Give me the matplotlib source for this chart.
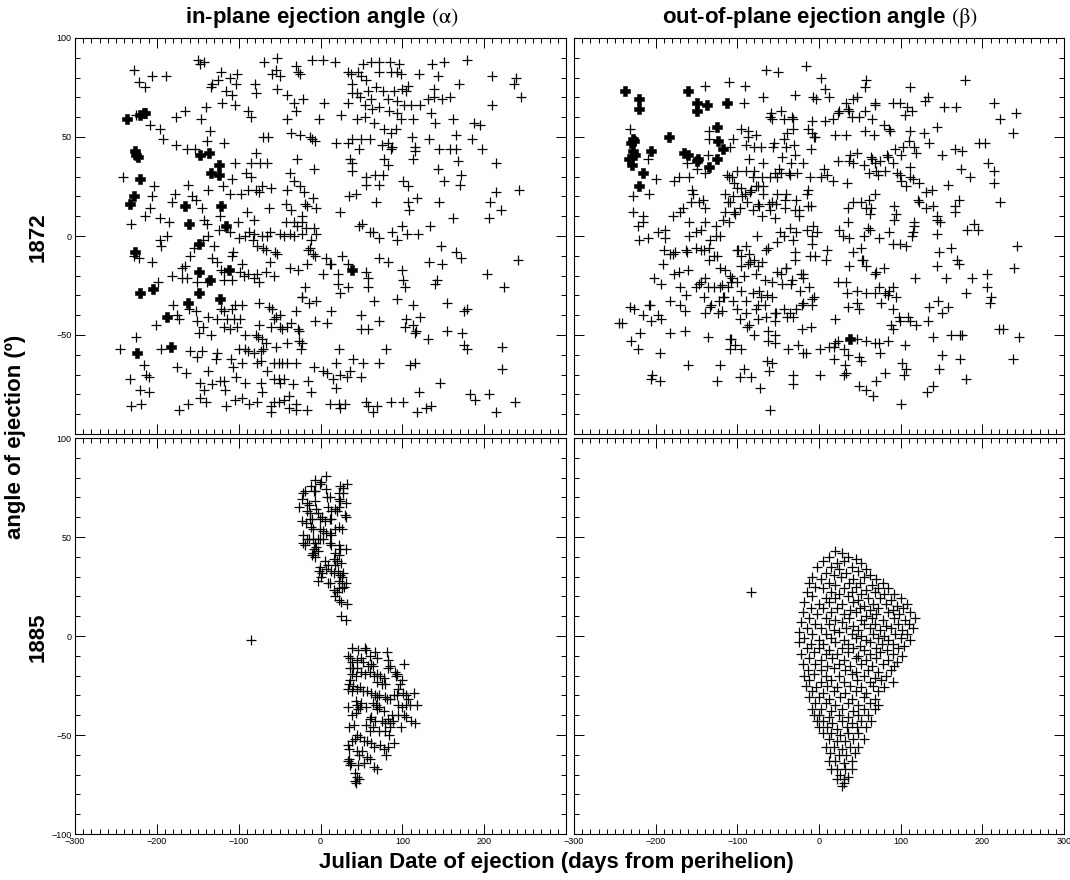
import numpy as np
import matplotlib
matplotlib.use('Agg')
import matplotlib.pyplot as plt
from matplotlib.ticker import MultipleLocator

plt.rcParams['font.family'] = ['Liberation Sans', 'DejaVu Sans']
plt.rcParams['mathtext.fontset'] = 'stix'

# ---------------- data (days from perihelion, angle in degrees) ----------------
ALPHA_1872 = [
    (-228,84),(-222,78),(-214,75),(-206,81),(-189,81),(-226,61),(-208,56),(-196,54),(-192,49),(-176,60),
    (-165,63),(-177,46),(-163,44),(-153,44),(-139,48),(-135,53),(-146,59),(-140,65),(-150,89),(-147,87),
    (-142,88),(-134,75),(-133,77),(-125,79),(-122,83),(-120,67),(-116,73),(-110,80),(-108,71),(-104,66),
    (-103,77),(-102,82),(-118,47),(-119,25),(-110,21),(-105,37),(-108,29),(-97,21),(-123,10),(-124,3),
    (-101,7),(-90,12),(-81,8),(-92,0),(-85,37),(-74,37),(-91,32),(-85,30),(-88,23),(-79,23),(-75,22),
    (-71,25),(-61,24),(-65,37),(-80,77),(-79,72),(-88,63),(-85,60),(-69,88),(-70,50),(-64,50),(-79,42),
    (-63,14),(-53,90),(-59,82),(-49,81),(-54,84),(-53,74),(-41,71),(-30,86),(-28,83),(-32,67),(-30,63),
    (-41,59),(-36,52),(-25,51),(-29,39),(-37,32),(-32,28),(-41,23),(-25,25),(-42,16),(-36,13),(-42,7),
    (-32,7),(-29,5),(-241,30),(-231,6),(-215,10),(-208,14),(-206,20),(-204,25),(-196,9),(-185,7),(-182,17),
    (-178,21),(-162,26),(-157,20),(-152,18),(-145,14),(-142,8),(-139,6),(-138,23),
    (-196,-2),(-195,-5),(-187,0),(-228,-10),(-222,-11),(-206,-13),(-155,-6),(-159,-10),(-143,-2),(-138,0),
    (-130,-5),(-133,-11),(-126,-13),(-166,-15),(-169,-16),(-181,-20),(-169,-21),(-163,-21),(-151,-23),
    (-198,-23),(-139,-23),(-121,-17),(-118,-18),(-107,-8),(-108,-10),(-100,-1),(-111,2),(-96,-14),
    (-118,-22),(-108,-22),(-98,-18),(-94,-20),(-88,-19),(-81,-21),(-75,-23),(-78,-19),(-67,-18),(-57,-20),
    (-62,-13),(-53,-9),(-56,-8),(-83,-2),(-77,-5),(-87,2),(-81,1),(-71,0),(-65,0),(-62,2),(-49,1),(-45,0),
    (-37,1),(-32,0),(-70,-6),(-67,-7),(-37,-16),(-28,-17),(-180,-35),(-175,-40),(-173,-42),(-161,-37),
    (-152,-38),(-151,-43),(-201,-45),(-143,-46),(-137,-41),(-127,-42),(-122,-37),(-118,-38),(-114,-42),
    (-106,-42),(-98,-42),(-108,-37),(-104,-35),(-96,-35),(-75,-34),(-63,-36),(-59,-37),(-54,-41),(-57,-42),
    (-49,-40),(-30,-38),(-118,-46),(-110,-47),(-102,-46),(-134,-50),(-149,-49),(-92,-50),(-79,-50),
    (-76,-51),(-75,-45),(-71,-52),(-67,-54),(-61,-46),(-49,-46),(-47,-47),(-41,-46),(-36,-44),(-28,-47),
    (-26,-48),(-41,-54),(-26,-53),(-24,-57),(-54,-56),(-70,-57),(-73,-58),(-81,-59),(-100,-57),(-92,-57),
    (-89,-58),(-109,-62),(-107,-66),(-96,-64),(-77,-64),(-73,-63),(-65,-68),(-57,-64),(-51,-64),(-47,-64),
    (-41,-64),(-30,-64),(-57,-72),(-51,-72),(-45,-72),(-49,-74),(-33,-75),(-226,-51),(-245,-57),(-195,-57),
    (-160,-58),(-151,-61),(-145,-58),(-128,-62),(-126,-59),(-138,-68),(-175,-66),(-164,-69),(-216,-65),
    (-213,-70),(-210,-71),(-233,-72),(-221,-78),(-209,-79),(-231,-86),(-219,-85),(-173,-88),(-162,-85),
    (-147,-74),(-142,-78),(-140,-84),(-147,-82),(-132,-75),(-123,-73),(-118,-73),(-117,-78),(-116,-86),
    (-105,-83),(-96,-82),(-103,-71),(-92,-74),(-87,-85),(-77,-84),(-73,-74),(-72,-79),(-61,-86),(-60,-89),
    (-57,-84),(-51,-84),(-45,-83),(-38,-81),(-38,-87),(-30,-88),(-30,-85),
    (-10,89),(3,89),(18,88),(52,87),(62,88),(72,88),(85,88),(96,87),(72,83),(86,83),(93,83),(98,82),(34,83),
    (37,82),(46,83),(49,81),(56,79),(-25,82),(38,77),(136,87),(151,88),(179,89),(120,82),(143,81),(209,81),
    (239,80),(237,77),(169,77),(245,70),(-21,69),(4,67),(38,72),(44,72),(34,67),(48,70),(54,66),(58,73),
    (62,69),(68,75),(71,65),(76,73),(83,69),(90,73),(93,68),(99,74),(104,73),(107,76),(102,66),(111,66),
    (121,66),(131,69),(139,70),(148,69),(158,70),(139,74),(63,64),(84,63),(93,62),(54,60),(44,59),(25,61),
    (-2,59),(65,57),(98,59),(113,59),(135,62),(140,57),(162,59),(187,57),(195,56),(209,66),(77,54),(86,52),
    (92,54),(166,51),(-13,50),(-10,49),(-7,48),(19,47),(34,47),(38,49),(50,49),(60,49),(47,44),(75,46),
    (82,47),(86,44),(87,45),(112,50),(115,45),(116,43),(113,39),(132,49),(145,44),(158,44),(166,44),
    (185,49),(197,44),(168,38),(214,37),(36,39),(38,37),(39,33),(77,39),(82,36),(-8,34),(55,30),(66,31),
    (76,31),(56,26),(71,26),(101,28),(107,25),(144,34),(151,28),(172,31),(171,26),(35,20),(43,21),(68,17),
    (107,17),(108,13),(118,19),(145,17),(214,22),(207,17),(220,13),(242,23),(24,12),(-20,22),(-9,19),
    (-19,16),(-16,15),(-6,14),(-23,10),(-22,7),(-18,4),(-8,4),(162,9),(206,9),(47,5),(51,6),(99,5),(134,5),
    (-23,1),(-5,1),(-11,-2),(-13,-6),(-15,-7),(-9,-9),(-7,-10),(61,2),(64,2),(72,-1),(87,2),(94,-2),(106,1),
    (119,1),(-17,-14),(7,-11),(11,-14),(13,-14),(26,-10),(33,-14),(3,-19),(21,-19),(55,-18),(58,-21),
    (72,-11),(83,-13),(100,-17),(101,-22),(103,-26),(133,-13),(148,-14),(147,-5),(166,-8),(172,-11),
    (203,-19),(241,-12),(142,-22),(140,-24),(224,-26),(-19,-26),(-22,-31),(-23,-31),(-14,-34),(-6,-33),
    (21,-24),(24,-29),(34,-26),(58,-26),(65,-33),(93,-32),(113,-35),(122,-41),(154,-34),(175,-38),
    (179,-37),(13,-38),(-7,-43),(8,-44),(50,-40),(49,-47),(58,-47),(71,-43),(105,-42),(103,-46),(113,-45),
    (115,-49),(117,-48),(131,-52),(154,-48),(173,-49),(175,-55),(179,-57),(222,-56),(222,-67),(-23,-54),
    (23,-57),(80,-57),(40,-62),(52,-64),(71,-64),(36,-68),(19,-64),(-8,-66),(3,-68),(8,-69),(24,-70),
    (32,-71),(15,-72),(50,-71),(-15,-73),(19,-77),(109,-65),(115,-64),(146,-74),(120,-79),(-12,-79),
    (183,-80),(189,-83),(206,-80),(238,-84),(12,-85),(23,-85),(30,-85),(24,-87),(56,-84),(58,-86),(69,-86),
    (64,-89),(86,-84),(101,-84),(118,-89),(129,-87),(135,-86),(215,-89),(-17,-88),
]
ALPHA_1872_BOLD = [
    (-237,59),(-220,61),(-216,62),(-214,62),(-227,43),(-225,41),(-223,40),(-221,29),(-228,20),(-233,16),
    (-165,15),(-161,6),(-147,41),(-136,42),(-124,36),(-134,32),(-124,31),(-122,15),(-116,5),
    (-227,-8),(-221,-29),(-205,-27),(-149,-4),(-148,-18),(-135,-22),(-112,-17),(-149,-29),(-123,-32),
    (-162,-34),(-187,-41),(-224,-59),(-183,-56),(39,-17),
]
BETA_1872 = [
    (-232,54),(-210,39),(-199,29),(-208,21),(-228,20),(-228,12),(-215,10),(-216,7),(-222,5),(-209,-1),
    (-179,10),(-177,28),(-172,30),(-159,30),(-170,12),(-166,14),(-159,7),(-156,23),(-154,21),(-157,17),
    (-147,17),(-142,18),(-139,14),(-140,7),(-197,2),(-188,3),(-189,-1),(-159,0),(-151,2),(-144,3),(-162,37),
    (-139,32),(-136,41),(-150,34),(-140,76),(-135,53),(-135,49),(-110,78),(-91,76),(-92,67),(-68,70),
    (-65,84),(-50,83),(-16,86),(-30,71),(-7,70),(-96,54),(-87,53),(-87,50),(-77,51),(-105,49),(-109,45),
    (-90,46),(-79,45),(-71,45),(-56,45),(-55,47),(-59,62),(-57,59),(-60,60),(-46,63),(-43,59),(-33,60),
    (-32,59),(-8,58),(-32,54),(-39,52),(-43,49),(-13,54),(-8,52),(-5,50),(-40,45),(-31,46),(-30,41),
    (-10,44),(-45,40),(-19,37),(-34,37),(-86,39),(-68,37),(-79,33),(-90,33),(-101,33),(-113,31),(-107,30),
    (-110,30),(-81,30),(-77,25),(-70,30),(-60,30),(-54,32),(-51,30),(-49,34),(-46,32),(-37,32),(-36,31),
    (-27,32),(-11,30),(-104,27),(-101,24),(-96,24),(-83,23),(-75,25),(-69,25),(-115,21),(-105,20),(-94,20),
    (-91,21),(-111,17),(-109,17),(-88,17),(-97,14),(-85,22),(-68,21),(-52,21),(-40,21),(-75,16),(-73,15),
    (-61,16),(-57,17),(-53,16),(-42,18),(-28,18),(-15,21),(-115,12),(-103,11),(-104,12),(-81,13),(-70,10),
    (-60,13),(-42,14),(-30,13),(-25,13),(-24,10),(-54,9),(-14,15),(-10,15),(-14,23),(-110,7),(-117,8),
    (-126,5),(-126,0),(-121,0),(-76,0),(-48,2),(-36,4),(-43,0),(-28,2),(-15,3),(-7,5),(-3,2),
    (2,80),(7,74),(12,70),(-4,69),(57,79),(56,75),(112,75),(179,79),(33,67),(42,69),(47,70),(69,67),(68,66),
    (90,67),(99,67),(108,65),(114,63),(105,61),(130,68),(134,70),(153,65),(168,65),(214,67),(222,59),
    (241,62),(238,52),(24,63),(23,62),(37,63),(36,64),(56,63),(40,60),(49,60),(65,59),(17,59),(7,58),
    (20,51),(33,51),(-6,50),(56,53),(67,51),(79,56),(86,54),(87,53),(112,53),(128,52),(145,55),(110,48),
    (116,45),(135,47),(119,42),(93,44),(103,45),(101,41),(166,44),(175,43),(151,41),(196,47),(203,47),
    (207,37),(214,33),(214,27),(222,17),(38,41),(37,38),(46,42),(42,37),(23,38),(55,36),(64,40),(65,39),
    (68,37),(75,38),(83,41),(84,40),(91,37),(61,32),(70,33),(72,31),(81,33),(96,32),(99,31),(101,28),
    (112,35),(112,30),(115,29),(123,27),(6,34),(10,31),(2,30),(17,28),(34,27),(107,25),(174,34),(185,30),
    (158,26),(69,21),(131,22),(138,23),(121,18),(122,17),(42,17),(52,17),(61,18),(58,14),(35,14),(64,14),
    (62,11),(92,15),(94,11),(92,8),(131,14),(140,15),(166,15),(171,18),(167,12),(145,10),(144,8),(148,7),
    (36,7),(24,3),(60,4),(62,3),(86,2),(116,7),(116,5),(115,2),(114,0),(144,1),(181,3),(190,6),(195,3),
    (29,0),(37,-1),(55,0),(73,-1),
    (-221,-2),(-134,-2),(-190,-7),(-179,-9),(-176,-8),(-183,-9),(-163,-7),(-162,-8),(-151,-6),(-144,-7),
    (-141,-7),(-135,-6),(-135,-12),(-128,-10),(-125,-10),(-191,-14),(-202,-21),(-193,-24),(-177,-19),
    (-172,-18),(-161,-17),(-170,-26),(-163,-30),(-151,-26),(-147,-24),(-144,-23),(-140,-21),(-136,-26),
    (-141,-31),(-128,-26),(-121,-16),(-115,-17),(-119,-25),(-109,-20),(-107,-21),(-108,-23),(-101,-7),
    (-99,-7),(-90,-5),(-86,-9),(-96,-10),(-96,-15),(-87,-14),(-85,-13),(-79,-12),(-75,-15),(-70,-13),
    (-65,-7),(-63,-6),(-51,-3),(-32,-2),(-30,-8),(-30,-12),(-9,-4),(-8,0),(-11,-10),(-92,-20),(-77,-19),
    (-66,-22),(-57,-23),(-51,-18),(-46,-19),(-41,-16),(-40,-16),(-45,-24),(-33,-22),(-34,-24),(-22,-19),
    (-19,-19),(-20,-21),(-101,-23),(-121,-26),(-111,-26),(-118,-31),(-122,-33),(-116,-31),(-95,-28),
    (-81,-29),(-73,-28),(-71,-31),(-64,-30),(-57,-31),(-89,-33),(-105,-33),(-132,-35),(-134,-36),
    (-139,-39),(-124,-39),(-119,-38),(-101,-37),(-89,-39),(-97,-42),(-75,-35),(-77,-37),(-66,-35),
    (-65,-41),(-75,-42),(-54,-39),(-53,-39),(-43,-37),(-39,-41),(-35,-39),(-32,-41),(-28,-37),(-21,-35),
    (-19,-34),(-12,-26),(-23,-28),(-8,-32),(-9,-35),(-54,-43),(-79,-50),(-86,-45),(-88,-46),(-62,-48),
    (-62,-53),(-54,-50),(-54,-54),(-38,-57),(-26,-55),(-20,-59),(-16,-59),(-21,-47),(-10,-46),(-232,-36),
    (-226,-37),(-208,-35),(-207,-35),(-215,-40),(-206,-43),(-197,-40),(-194,-42),(-245,-44),(-241,-44),
    (-183,-33),(-170,-35),(-164,-38),(-219,-49),(-182,-49),(-164,-48),(-230,-53),(-222,-57),(-195,-59),
    (-136,-51),(-109,-52),(-108,-52),(-103,-55),(-109,-57),(-95,-57),(-160,-65),(-121,-65),(-64,-63),
    (-58,-64),(-61,-68),(-92,-67),(-97,-71),(-83,-71),(-204,-70),(-206,-72),(-195,-73),(-125,-73),
    (-72,-77),(-32,-70),(-32,-75),(-60,-88),
    (91,-4),(99,-4),(106,-5),(-5,-10),(10,-7),(9,-12),(42,-8),(51,-6),(53,-12),(54,-12),(37,-15),(57,-15),
    (70,-18),(69,-19),(80,-16),(147,-8),(162,-6),(169,-12),(171,-14),(144,-15),(156,-21),(118,-21),
    (187,-21),(206,-19),(242,-5),(239,-16),(23,-23),(33,-23),(34,-29),(47,-28),(57,-29),(68,-29),(74,-26),
    (81,-29),(84,-30),(86,-28),(91,-26),(94,-31),(-6,-31),(36,-36),(46,-34),(49,-37),(76,-34),(91,-37),
    (20,-42),(98,-41),(99,-43),(109,-41),(112,-43),(119,-45),(88,-45),(91,-47),(135,-36),(146,-33),
    (158,-36),(151,-39),(134,-43),(180,-29),(206,-26),(210,-31),(209,-34),(221,-47),(225,-47),(245,-51),
    (139,-51),(162,-50),(173,-50),(175,-50),(46,-52),(58,-53),(69,-54),(74,-54),(84,-53),(105,-55),(1,-57),
    (12,-56),(18,-56),(23,-53),(20,-54),(31,-57),(36,-60),(49,-61),(51,-63),(75,-59),(18,-62),(32,-65),
    (30,-70),(33,-69),(1,-70),(102,-64),(107,-67),(104,-70),(81,-69),(150,-60),(147,-67),(173,-62),
    (180,-72),(238,-62),(49,-76),(58,-78),(70,-73),(66,-81),(132,-79),(140,-76),(101,-85),
]
BETA_1872_BOLD = [
    (-238,73),(-220,69),(-221,64),(-161,73),(-149,67),(-137,66),(-149,63),(-113,67),(-125,55),(-184,50),
    (-124,48),(-117,44),(-125,39),(-135,35),(-228,49),(-226,48),(-230,47),(-228,43),(-225,41),(-233,39),
    (-229,36),(-206,43),(-215,32),(-221,25),(-165,42),(-160,41),(-148,39),(-150,38),(38,-52),
]
ALPHA_1885 = [
    (-85,-2),
    (-7,79),(7,81),(-1,77),(1,78),(-11,76),(-8,73),(-7,73),(-19,73),(-21,72),(-22,69),(-17,67),(-14,66),
    (-7,68),(7,74),(8,70),(11,70),(24,76),(32,77),(28,75),(22,72),(28,72),(22,69),(24,68),(31,67),(-26,65),
    (-17,63),(-13,62),(-5,64),(-3,62),(9,65),(13,63),(18,64),(20,63),(23,65),(30,61),(31,60),(-23,58),
    (-18,57),(-13,59),(-10,59),(-1,59),(2,60),(5,58),(11,59),(13,59),(-11,55),(-9,54),(-1,54),(3,53),
    (18,54),(23,55),(26,54),(-21,51),(-17,49),(-14,49),(-9,49),(-3,49),(-1,49),(3,49),(7,52),(11,52),
    (13,51),(-21,47),(-19,46),(-7,47),(-5,45),(-8,44),(-3,43),(11,47),(13,46),(22,46),(24,44),(31,44),
    (18,42),(22,41),(-10,41),(-7,40),(-9,42),(5,38),(9,36),(16,39),(20,38),(25,37),(18,36),(-1,35),(7,34),
    (-2,33),(2,32),(13,33),(16,32),(21,33),(24,31),(26,30),(28,32),(-3,28),(1,30),(9,27),(12,27),(22,28),
    (26,27),(31,27),(29,25),(16,23),(22,24),(26,24),(20,22),(18,20),(23,18),(25,17),(32,16),(25,10),(31,8),
    (39,-6),(46,-7),(54,-6),(56,-7),(60,-10),(67,-8),(69,-11),(81,-8),(34,-10),(36,-11),(38,-13),(44,-12),
    (50,-11),(52,-13),(58,-15),(62,-14),(64,-15),(83,-12),(85,-15),(82,-16),(102,-14),(36,-16),(40,-16),
    (45,-16),(38,-19),(43,-20),(50,-18),(54,-19),(60,-18),(65,-20),(69,-19),(73,-20),(77,-21),(69,-23),
    (75,-24),(79,-24),(91,-18),(94,-19),(92,-20),(100,-22),(97,-24),(95,-27),(36,-22),(35,-24),(40,-25),
    (34,-27),(38,-28),(45,-27),(48,-26),(52,-28),(57,-28),(62,-29),(67,-30),(69,-31),(71,-30),(79,-31),
    (81,-32),(85,-32),(90,-30),(94,-30),(101,-29),(104,-30),(107,-32),(114,-29),(118,-35),(105,-35),
    (95,-35),(99,-36),(109,-35),(33,-36),(43,-33),(45,-35),(48,-36),(50,-34),(46,-37),(43,-39),(39,-40),
    (56,-36),(64,-34),(68,-35),(72,-36),(69,-37),(77,-38),(62,-41),(60,-42),(67,-43),(75,-43),(79,-44),
    (83,-42),(85,-44),(88,-43),(87,-40),(95,-40),(102,-40),(105,-41),(111,-43),(115,-44),(98,-46),(35,-46),
    (41,-45),(56,-45),(60,-48),(64,-46),(71,-48),(79,-48),(84,-50),(85,-46),(90,-54),(80,-60),(45,-50),
    (48,-51),(42,-52),(38,-53),(33,-55),(35,-57),(53,-53),(57,-53),(62,-54),(65,-56),(73,-55),(83,-56),
    (77,-57),(44,-58),(47,-60),(51,-58),(57,-61),(60,-62),(53,-64),(46,-65),(35,-62),(34,-63),(37,-64),
    (36,-65),(65,-66),(69,-67),(42,-69),(45,-71),(47,-72),(42,-73),(43,-74),
]
BETA_1885 = [
    (-83,22),
    (20,43),(28,42),(12,40),(35,40),(45,39),(5,38),(22,37),(30,38),(52,37),(-2,35),(15,35),(25,34),(40,35),
    (58,34),(8,32),(18,31),(33,32),(48,33),(62,31),(-8,30),(2,29),(27,30),(42,29),(55,30),(70,29),
    (-12,27),(12,27),(20,26),(37,27),(50,27),(65,26),(78,27),(-5,25),(5,24),(30,24),(45,25),(58,23),
    (72,24),(85,24),(-15,22),(15,22),(25,21),(40,22),(52,21),(68,22),(80,21),(92,21),(-8,20),(8,19),
    (20,19),(35,20),(48,18),(60,19),(75,19),(88,18),(100,19),(-18,17),(0,16),(12,17),(28,16),(42,17),
    (55,15),(66,16),(82,16),(95,15),(108,16),(-10,14),(5,14),(22,14),(38,13),(50,14),(62,13),(72,14),
    (90,13),(103,14),(-20,12),(-3,11),(15,12),(30,11),(45,12),(58,10),(70,11),(85,12),(98,11),(112,12),
    (-12,9),(8,9),(20,8),(37,9),(52,8),(65,9),(78,8),(92,9),(105,8),(118,9),(-22,7),(-5,6),(12,6),(28,7),
    (42,5),(55,6),(68,6),(82,5),(97,6),(110,6),(-15,4),(2,4),(18,3),(33,4),(48,3),(62,4),(75,3),(88,4),
    (102,3),(115,4),(-25,2),(-8,1),(8,1),(25,2),(40,1),(52,0),(66,1),(80,0),(93,1),(108,1),(-18,-1),
    (0,-2),(15,-1),(30,-2),(45,-1),(58,-2),(72,-1),(85,-2),(100,-1),(112,-2),(-24,-3),(-10,-4),(5,-4),
    (20,-3),(35,-4),(50,-5),(63,-3),(77,-4),(90,-4),(104,-5),(-15,-6),(0,-6),(12,-7),(28,-6),(42,-6),
    (55,-7),(70,-6),(83,-7),(97,-6),(-22,-9),(-6,-8),(8,-9),(22,-9),(36,-8),(48,-10),(62,-9),(75,-8),
    (90,-9),(102,-10),(-12,-11),(3,-12),(16,-11),(30,-12),(45,-11),(58,-12),(70,-11),(85,-12),(95,-13),
    (-20,-14),(-5,-14),(10,-15),(25,-14),(38,-15),(52,-14),(65,-15),(78,-14),(92,-15),(-14,-17),(2,-17),
    (18,-16),(32,-17),(45,-18),(60,-17),(72,-18),(88,-17),(-18,-20),(-6,-19),(8,-20),(24,-20),(40,-19),
    (55,-20),(68,-21),(82,-20),(-12,-22),(2,-23),(15,-22),(30,-23),(47,-22),(62,-23),(76,-22),(90,-23),
    (-16,-25),(-4,-26),(10,-25),(22,-26),(38,-25),(52,-26),(66,-25),(80,-26),(-8,-28),(5,-29),(18,-28),
    (32,-29),(45,-28),(58,-29),(72,-28),(-12,-31),(0,-31),(12,-32),(26,-31),(40,-32),(55,-31),(68,-32),
    (-5,-34),(8,-34),(20,-35),(35,-34),(48,-35),(62,-34),(72,-35),(-8,-37),(3,-37),(15,-38),(28,-37),
    (42,-38),(55,-37),(68,-37),(-6,-40),(0,-40),(12,-41),(24,-40),(36,-41),(48,-40),(60,-40),(-3,-43),
    (5,-43),(16,-44),(28,-43),(40,-44),(52,-43),(64,-43),(0,-46),(10,-46),(22,-47),(34,-46),(46,-46),
    (58,-46),(5,-49),(15,-49),(26,-50),(36,-49),(48,-49),(12,-52),(22,-53),(32,-53),(42,-52),(55,-52),
    (8,-56),(18,-56),(28,-57),(38,-56),(48,-56),(14,-59),(24,-60),(33,-60),(44,-59),(12,-63),(20,-63),
    (30,-64),(40,-63),(15,-67),(22,-67),(32,-67),(40,-67),(26,-70),(35,-71),(22,-72),(30,-72),(30,-74),
    (28,-76),
]

ROW_LABELS = ['1872', '1885']
COL_TITLES = [r'in-plane ejection angle $(\mathrm{\alpha})$',
              r'out-of-plane ejection angle $(\mathrm{\beta})$']
X_TICKS = [-300, -200, -100, 0, 100, 200, 300]
Y_TICKS = [-100, -50, 0, 50, 100]

# ---------------- figure ----------------
W, H = 1070, 880
fig = plt.figure(figsize=(W / 100, H / 100), dpi=100)


def add_ax(x0, y0, x1, y1):
    return fig.add_axes([x0 / W, 1 - y1 / H, (x1 - x0) / W, (y1 - y0) / H])


ax_tl = add_ax(75, 38, 566, 434)
ax_tr = add_ax(574, 38, 1064, 434)
ax_bl = add_ax(75, 438, 566, 834)
ax_br = add_ax(574, 438, 1064, 834)


def fmt(v):
    return ('\u2212' + str(-v)) if v < 0 else str(v)


def style(ax, show_x, show_y, drop_top_y=False, drop_right_x=False):
    ax.set_xlim(-300, 300)
    ax.set_ylim(-100, 100)
    ax.xaxis.set_minor_locator(MultipleLocator(10))
    ax.yaxis.set_minor_locator(MultipleLocator(10))
    xl = [fmt(v) for v in X_TICKS]
    if drop_right_x:
        xl[-1] = ''
    yl = [fmt(v) for v in Y_TICKS]
    if drop_top_y:
        yl[0] = ''
    ax.set_xticks(X_TICKS, labels=xl)
    ax.set_yticks(Y_TICKS, labels=yl)
    ax.tick_params(which='both', direction='in', top=True, right=True,
                   width=0.7, labelsize=6.5, labelbottom=show_x, labelleft=show_y)
    ax.tick_params(which='major', length=7, pad=2.5)
    ax.tick_params(which='minor', length=3.5)
    for s in ax.spines.values():
        s.set_linewidth(0.8)


style(ax_tl, False, True, drop_top_y=True)
style(ax_tr, False, False)
style(ax_bl, True, True, drop_right_x=True)
style(ax_br, True, False)


def plot_pts(ax, pts, bold=False):
    a = np.array(pts, dtype=float)
    if bold:
        ax.plot(a[:, 0], a[:, 1], linestyle='none', marker='P', ms=7,
                mfc='black', mec='black', mew=0.4)
    else:
        ax.plot(a[:, 0], a[:, 1], linestyle='none', marker='+', ms=7,
                color='black', mew=0.9)


plot_pts(ax_tl, ALPHA_1872)
plot_pts(ax_tl, ALPHA_1872_BOLD, bold=True)
plot_pts(ax_tr, BETA_1872)
plot_pts(ax_tr, BETA_1872_BOLD, bold=True)
plot_pts(ax_bl, ALPHA_1885)
plot_pts(ax_br, BETA_1885)

# ---------------- texts ----------------
tkw = dict(fontsize=16, fontweight='bold', ha='center', va='center')
fig.text(322 / W, 1 - 18 / H, COL_TITLES[0], **tkw)
fig.text(820 / W, 1 - 18 / H, COL_TITLES[1], **tkw)
fig.text(38 / W, 1 - 237 / H, ROW_LABELS[0], rotation=90, **tkw)
fig.text(38 / W, 1 - 637 / H, ROW_LABELS[1], rotation=90, **tkw)
fig.text(16 / W, 1 - 437 / H, 'angle of ejection (\u00ba)', rotation=90, **tkw)
fig.text(556 / W, 1 - 862 / H, 'Julian Date of ejection (days from perihelion)', **tkw)

fig.savefig('out.png', dpi=100)
